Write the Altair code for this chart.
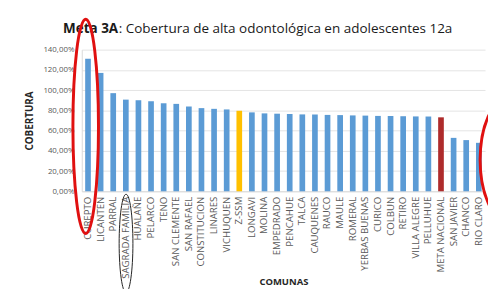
import altair as alt
import pandas as pd

comunas = [
    "CUREPTO", "LICANTEN", "PARRAL", "SAGRADA FAMILIA", "HUALAÑE", "PELARCO",
    "TENO", "SAN CLEMENTE", "SAN RAFAEL", "CONSTITUCION", "LINARES", "VICHUQUEN",
    "Z-SSM", "LONGAVI", "MOLINA", "EMPEDRADO", "PENCAHUE", "TALCA", "CAUQUENES",
    "RAUCO", "MAULE", "ROMERAL", "YERBAS BUENAS", "CURICO", "COLBUN", "RETIRO",
    "VILLA ALEGRE", "PELLUHUE", "META NACIONAL", "SAN JAVIER", "CHANCO", "RIO CLARO",
]
cobertura = [
    131.0, 117.0, 97.0, 90.6, 90.0, 89.0, 87.0, 86.4, 83.8, 82.2, 81.5, 80.9,
    79.6, 78.0, 77.0, 76.7, 76.4, 76.0, 75.9, 75.5, 75.3, 75.0, 74.8, 74.5,
    74.4, 74.2, 74.0, 73.9, 73.1, 52.8, 50.6, 47.9,
]
tipo_servicio = "Z-SSM"
tipo_meta = "META NACIONAL"
y_ticks = [0, 20, 40, 60, 80, 100, 120, 140]

title_bold = "Meta 3A"
title_rest = ": Cobertura de alta odontológica en adolescentes 12a"
x_title = "COMUNAS"
y_title = "COBERTURA"

tipos = [
    "Servicio" if c == tipo_servicio else ("Meta" if c == tipo_meta else "Comuna")
    for c in comunas
]
df = pd.DataFrame({"comuna": comunas, "cobertura": cobertura, "tipo": tipos})

FONT = "Open Sans"
GRAY = "#595959"

bars = alt.Chart(df).mark_bar().encode(
    x=alt.X(
        "comuna:N",
        sort=None,
        scale=alt.Scale(paddingInner=0.55, paddingOuter=0.27),
        axis=alt.Axis(
            title=x_title,
            labelAngle=-90,
            labelFontSize=9.8,
            labelColor=GRAY,
            labelFont=FONT,
            labelPadding=5,
            ticks=False,
            domainColor="#D9D9D9",
            titleFont=FONT,
            titleFontSize=9.6,
            titleFontWeight="bold",
            titleColor="#262626",
            titleY=92,
            titleBaseline="middle",
        ),
    ),
    y=alt.Y(
        "cobertura:Q",
        scale=alt.Scale(domain=[0, 140], nice=False),
        axis=alt.Axis(
            title=y_title,
            values=y_ticks,
            labelExpr="replace(format(datum.value, '.2f'), '.', ',') + '%'",
            labelFontSize=8,
            labelColor=GRAY,
            labelFont=FONT,
            labelPadding=8,
            ticks=False,
            domainColor="#D9D9D9",
            gridColor="#E3E3E3",
            titleFont=FONT,
            titleFontSize=10,
            titleFontWeight="bold",
            titleColor="#262626",
            titleX=-53,
            titleBaseline="middle",
        ),
    ),
    color=alt.Color(
        "tipo:N",
        scale=alt.Scale(
            domain=["Comuna", "Servicio", "Meta"],
            range=["#5B9BD5", "#FFC000", "#AE2B2B"],
        ),
        legend=None,
    ),
)

t1 = alt.Chart(pd.DataFrame({"t": [title_bold]})).mark_text(
    font=FONT, fontSize=13.7, fontWeight="bold", align="right", baseline="middle",
    color="#1a1a1a",
).encode(text="t:N", x=alt.value(37), y=alt.value(-21))

t2 = alt.Chart(pd.DataFrame({"t": [title_rest]})).mark_text(
    font=FONT, fontSize=13.7, align="left", baseline="middle", color="#1a1a1a",
).encode(text="t:N", x=alt.value(37.5), y=alt.value(-21))


def ellipse(rx, ry):
    r = rx / ry
    return f"M0,-1A{r},1 0 1,1 0,1A{r},1 0 1,1 0,-1Z"


e1 = alt.Chart(pd.DataFrame({"a": [1]})).mark_point(
    shape=ellipse(13, 109), size=(2 * 109) ** 2, filled=False,
    stroke="#E01010", strokeWidth=3, opacity=1,
).encode(x=alt.value(4), y=alt.value(78))

e2 = alt.Chart(pd.DataFrame({"a": [1]})).mark_point(
    shape=ellipse(28, 62), size=(2 * 62) ** 2, filled=False,
    stroke="#E01010", strokeWidth=3, opacity=1,
).encode(x=alt.value(433), y=alt.value(112))

e3 = alt.Chart(pd.DataFrame({"a": [1]})).mark_point(
    shape=ellipse(7, 50), size=(2 * 50) ** 2, filled=False,
    stroke="#222222", strokeWidth=1, opacity=1,
).encode(x=alt.value(45), y=alt.value(197))

chart = alt.layer(bars, t1, t2, e1, e2, e3).properties(
    width=410,
    height=144,
    autosize=alt.AutoSizeParams(type="none"),
    padding={"left": 75, "top": 40, "right": 3, "bottom": 97},
).configure_view(stroke=None)

chart.save("out.html", embed_options={"renderer": "svg", "actions": False})
